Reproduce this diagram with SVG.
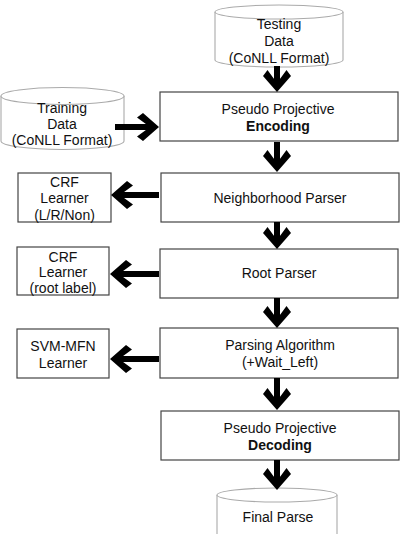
<svg xmlns="http://www.w3.org/2000/svg" width="406" height="534" viewBox="0 0 406 534">
<defs>
<style>
.box{fill:#fff;stroke:#444;stroke-width:1.2}
.cyl{fill:#fff;stroke:#aaa;stroke-width:1.1}
text{font-family:"Liberation Sans",Arial,sans-serif;font-size:14px;fill:#111;text-anchor:middle}
.b{font-weight:bold}
.arr{stroke:#000;stroke-width:6;fill:none;marker-end:url(#head)}
</style>
<marker id="head" markerUnits="userSpaceOnUse" viewBox="0 -15 24 30" markerWidth="24" markerHeight="30" refX="15" refY="0" orient="auto" overflow="visible">
<polygon points="23,0 7,-14 1,-9.5 14,0 1,9.5 7,14" fill="#000"/>
</marker>
</defs>
<rect width="406" height="534" fill="#fff"/>

<g id="testing-data">
<path class="cyl" d="M215,12 L215,60 A64,7 0 0 0 343,60 L343,12"/>
<ellipse class="cyl" cx="279" cy="12" rx="64" ry="7"/>
<text x="279" y="29">Testing</text>
<text x="279" y="46">Data</text>
<text x="279" y="63">(CoNLL Format)</text>
</g>

<g id="training-data">
<path class="cyl" d="M1,96 L1,141 A61.5,8.5 0 0 0 124,141 L124,96"/>
<ellipse class="cyl" cx="62.5" cy="96" rx="61.5" ry="8.5"/>
<text x="62" y="113">Training</text>
<text x="62" y="129">Data</text>
<text x="62" y="145">(CoNLL Format)</text>
</g>

<g id="encoding">
<rect class="box" x="160" y="92" width="238" height="49"/>
<text x="278" y="114">Pseudo Projective</text>
<text x="278" y="131" class="b">Encoding</text>
</g>

<g id="neighborhood-parser">
<rect class="box" x="161" y="173" width="238" height="49"/>
<text x="280" y="203">Neighborhood Parser</text>
</g>

<g id="crf-lrn">
<rect class="box" x="18" y="173" width="93" height="49"/>
<text x="64.5" y="187">CRF</text>
<text x="64.5" y="203">Learner</text>
<text x="64.5" y="220">(L/R/Non)</text>
</g>

<g id="root-parser">
<rect class="box" x="160" y="249" width="238" height="49"/>
<text x="279" y="278">Root Parser</text>
</g>

<g id="crf-root">
<rect class="box" x="17" y="247" width="92" height="48"/>
<text x="63" y="262">CRF</text>
<text x="63" y="277">Learner</text>
<text x="63" y="293">(root label)</text>
</g>

<g id="parsing-algorithm">
<rect class="box" x="160" y="328" width="238" height="50"/>
<text x="280" y="350">Parsing Algorithm</text>
<text x="280" y="367">(+Wait_Left)</text>
</g>

<g id="svm-mfn">
<rect class="box" x="17" y="329" width="92" height="49"/>
<text x="63" y="351">SVM-MFN</text>
<text x="63" y="368">Learner</text>
</g>

<g id="decoding">
<rect class="box" x="161" y="411" width="238" height="49"/>
<text x="280" y="433">Pseudo Projective</text>
<text x="280" y="450" class="b">Decoding</text>
</g>

<g id="final-parse">
<path class="cyl" d="M217,495 L217,540 L337,540 L337,495"/>
<ellipse class="cyl" cx="277" cy="495" rx="60" ry="7"/>
<text x="278" y="522">Final Parse</text>
</g>

<g id="connectors">
<line class="arr" x1="277" y1="66" x2="277" y2="84"/>
<line class="arr" x1="115" y1="127" x2="151" y2="127"/>
<line class="arr" x1="277" y1="142" x2="277" y2="164"/>
<line class="arr" x1="159" y1="195" x2="119" y2="195"/>
<line class="arr" x1="277" y1="222" x2="277" y2="241"/>
<line class="arr" x1="159" y1="274" x2="118" y2="274"/>
<line class="arr" x1="277" y1="298" x2="277" y2="320"/>
<line class="arr" x1="159" y1="359" x2="118" y2="359"/>
<line class="arr" x1="277" y1="378" x2="277" y2="402"/>
<line class="arr" x1="277" y1="460" x2="277" y2="482"/>
</g>
</svg>
